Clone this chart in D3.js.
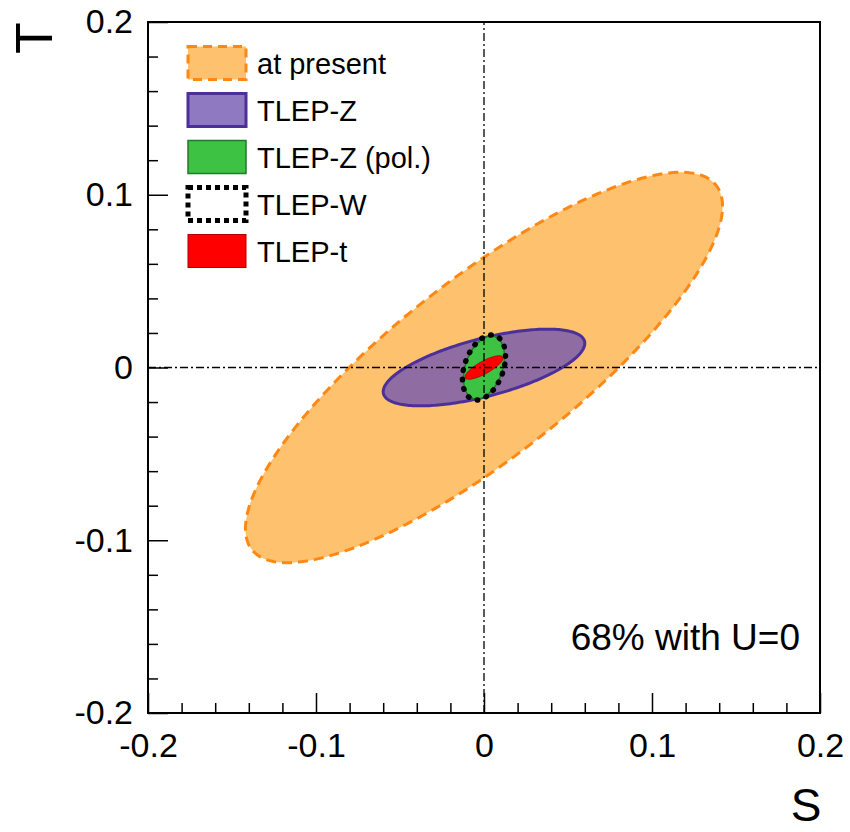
<!DOCTYPE html>
<html>
<head>
<meta charset="utf-8">
<script src="https://cdn.jsdelivr.net/npm/d3@7"></script>
<style>
  body { margin: 0; background: #fff; }
  svg { display: block; font-family: "Liberation Sans", Arial, Helvetica, sans-serif; }
</style>
</head>
<body>
<script>
// Contour names, as in the legend
var names = ["at present", "TLEP-Z", "TLEP-Z (pol.)", "TLEP-W", "TLEP-t"];
// Centres of the 68% contours (S, T)
var centerS = [0, 0, 0, 0, 0];
var centerT = [0, 0, 0, 0, 0];
// Half extents along S and T, and the S-T correlation
var sigmaS = [0.142, 0.060, 0.0122, 0.0128, 0.0113];
var sigmaT = [0.113, 0.0222, 0.0182, 0.0188, 0.0068];
var rho    = [0.825, 0.63, 0.35, 0.35, 0.80];
// Axis ticks
var majorTicks = [-0.2, -0.1, 0, 0.1, 0.2];
var majorLabels = ["-0.2", "-0.1", "0", "0.1", "0.2"];
var minorTicks = [-0.18, -0.16, -0.14, -0.12, -0.08, -0.06, -0.04, -0.02,
                  0.02, 0.04, 0.06, 0.08, 0.12, 0.14, 0.16, 0.18];

// Style for each contour
var styles = [
    { fill: "#fec16e", fillOpacity: 1,   stroke: "#ff8814", width: 3,   dash: "10,6",  cap: "butt" },
    { fill: "#7357b0", fillOpacity: 0.8, stroke: "#4d2f9a", width: 3,   dash: null,    cap: "butt" },
    { fill: "#3ec244", fillOpacity: 1,   stroke: "#1f7a2a", width: 1.5, dash: null,    cap: "butt" },
    { fill: "none",    fillOpacity: 1,   stroke: "#000",    width: 5.5, dash: "0.5,9", cap: "round" },
    { fill: "#ff0000", fillOpacity: 1,   stroke: "#b00000", width: 1,   dash: null,    cap: "butt" }
];

var width = 850, height = 832;
var margin = { top: 22, right: 30, bottom: 119, left: 148 };

var svg = d3.select("body").append("svg")
    .attr("width", width)
    .attr("height", height);

var x = d3.scaleLinear().domain([-0.2, 0.2]).range([margin.left, width - margin.right]);
var y = d3.scaleLinear().domain([-0.2, 0.2]).range([height - margin.bottom, margin.top]);

// Points on a correlated ellipse in (S, T) space
function contour(i) {
    var pts = [];
    var n = 240;
    for (var k = 0; k < n; k++) {
        var t = 2 * Math.PI * k / n;
        var s = centerS[i] + sigmaS[i] * Math.cos(t);
        var tt = centerT[i] + sigmaT[i] * (rho[i] * Math.cos(t) + Math.sqrt(1 - rho[i] * rho[i]) * Math.sin(t));
        pts.push([s, tt]);
    }
    return pts;
}

var line = d3.line()
    .x(function(d){ return x(d[0]); })
    .y(function(d){ return y(d[1]); })
    .curve(d3.curveLinearClosed);

svg.append("g").selectAll("path")
    .data(names)
    .enter().append("path")
    .attr("d", function(d, i){ return line(contour(i)); })
    .attr("fill", function(d, i){ return styles[i].fill; })
    .attr("fill-opacity", function(d, i){ return styles[i].fillOpacity; })
    .attr("stroke", function(d, i){ return styles[i].stroke; })
    .attr("stroke-width", function(d, i){ return styles[i].width; })
    .attr("stroke-linecap", function(d, i){ return styles[i].cap; })
    .attr("stroke-dasharray", function(d, i){ return styles[i].dash; });

// Dash-dot lines through the origin
var cross = svg.append("g")
    .attr("stroke", "#000")
    .attr("stroke-width", 1.3)
    .attr("stroke-dasharray", "8,3,2,3");
cross.append("line")
    .attr("x1", x(0)).attr("x2", x(0))
    .attr("y1", y(-0.2)).attr("y2", y(0.2));
cross.append("line")
    .attr("x1", x(-0.2)).attr("x2", x(0.2))
    .attr("y1", y(0)).attr("y2", y(0));

// Axes: ticks point into the frame
svg.append("g")
    .attr("transform", "translate(0," + y(-0.2) + ")")
    .call(d3.axisBottom(x).tickValues(majorTicks)
        .tickFormat(function(d, i){ return majorLabels[i]; })
        .tickSize(-20).tickPadding(20));
svg.append("g")
    .attr("transform", "translate(0," + y(-0.2) + ")")
    .call(d3.axisBottom(x).tickValues(minorTicks).tickFormat("").tickSize(-10));

svg.append("g")
    .attr("transform", "translate(" + x(-0.2) + ",0)")
    .call(d3.axisLeft(y).tickValues(majorTicks)
        .tickFormat(function(d, i){ return majorLabels[i]; })
        .tickSize(-20).tickPadding(15));
svg.append("g")
    .attr("transform", "translate(" + x(-0.2) + ",0)")
    .call(d3.axisLeft(y).tickValues(minorTicks).tickFormat("").tickSize(-10));

svg.selectAll(".domain").remove();
svg.selectAll(".tick line").attr("stroke", "#000").attr("stroke-width", 1.5);
svg.selectAll(".tick text")
    .attr("font-family", "Liberation Sans, Arial, sans-serif")
    .attr("font-size", 34)
    .attr("fill", "#000");

// Frame
svg.append("rect")
    .attr("x", x(-0.2)).attr("y", y(0.2))
    .attr("width", x(0.2) - x(-0.2))
    .attr("height", y(-0.2) - y(0.2))
    .attr("fill", "none")
    .attr("stroke", "#000")
    .attr("stroke-width", 2);

// Axis titles
svg.append("text")
    .attr("transform", "translate(52,38) rotate(-90)")
    .attr("text-anchor", "middle")
    .attr("font-size", 52)
    .text("T");
svg.append("text")
    .attr("x", 806).attr("y", 821)
    .attr("text-anchor", "middle")
    .attr("font-size", 46)
    .text("S");

// Annotation
svg.append("text")
    .attr("x", 800).attr("y", 650)
    .attr("text-anchor", "end")
    .attr("font-size", 37)
    .text("68% with U=0");

// Legend
var legend = svg.append("g").attr("transform", "translate(188,63)");
var entry = legend.selectAll("g")
    .data(names)
    .enter().append("g")
    .attr("transform", function(d, i){ return "translate(0," + (i * 47) + ")"; });
entry.append("rect")
    .attr("x", 0).attr("y", -16.5)
    .attr("width", 58).attr("height", 33)
    .attr("fill", function(d, i){ return styles[i].fill; })
    .attr("fill-opacity", function(d, i){ return styles[i].fillOpacity; })
    .attr("stroke", function(d, i){ return styles[i].stroke; })
    .attr("stroke-width", function(d, i){ return i === 3 ? 5 : styles[i].width; })
    .attr("stroke-dasharray", function(d, i){ return i === 0 ? "9,6" : (i === 3 ? "5,4" : styles[i].dash); });
entry.append("text")
    .attr("x", 69).attr("y", 10.5)
    .attr("font-size", 29)
    .text(function(d){ return d; });
</script>
</body>
</html>
